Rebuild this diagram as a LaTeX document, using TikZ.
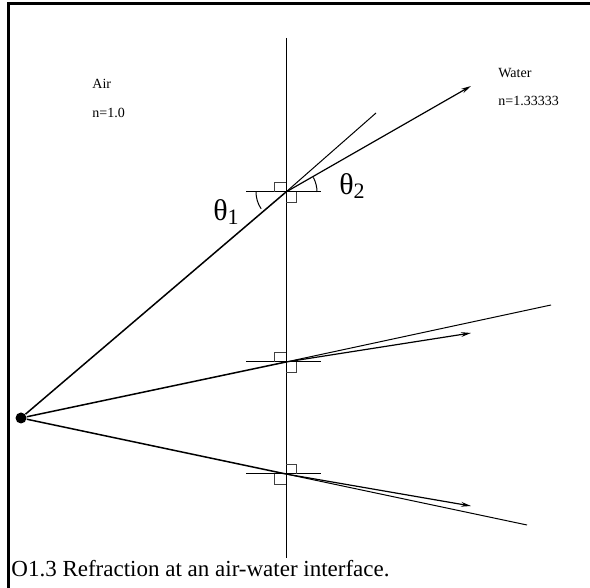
\documentclass[tikz,border=0pt]{standalone}
\usepackage{fontspec}
\setmainfont{Liberation Serif}
\usetikzlibrary{positioning}
\usetikzlibrary{calc}
\usetikzlibrary{arrows.meta}

\begin{document}
\begin{tikzpicture}[x=0.5pt, y=-0.5pt,
        ray/.style={line width=0.75pt},
        bent/.style={line width=0.6pt, -{Stealth[length=5pt,width=2.4pt]}},
        straight/.style={line width=0.5pt},
        normal/.style={line width=0.5pt},
        corner/.style={line width=0.4pt, black!75},
        medium/.style={font=\fontsize{7}{8}\selectfont, anchor=base west, inner sep=0pt},
        angle/.style={font=\fontsize{15}{15}\selectfont, inner sep=0pt}]
        \useasboundingbox (0,0) rectangle (590,588);
        \draw[line width=1.5pt] (8,588) -- (8,4) -- (590,4);

        % interface
        \coordinate (top) at (286,38);
        \coordinate (bottom) at (286,558);
        \draw[normal] (top) -- (bottom);

        \node[medium] (air) at (92,89) {Air};
        \node[medium] (n_air) at (92,118) {n=1.0};
        \node[medium] (water) at (498,78) {Water};
        \node[medium] (n_water) at (498,106) {n=1.33333};

        % source and hit points
        \node[circle, fill, inner sep=0pt, minimum size=5.5pt] (s_0) at (21,418) {};
        \coordinate (p_1) at (286,192);
        \coordinate (p_2) at (286,362);
        \coordinate (p_3) at (286,474);

        \coordinate (b_1) at (471,86);
        \coordinate (b_2) at (471,333);
        \coordinate (b_3) at (471,506);
        \coordinate (c_1) at (376,113);
        \coordinate (c_2) at (551,305);
        \coordinate (c_3) at (527,525);

        \foreach \i in {1,2,3} {
            \draw[normal] (p_\i) ++(-40,0) -- ++(75,0);
            \draw[ray] (s_0) -- (p_\i);
            \draw[bent] (p_\i) -- (b_\i);
            \draw[straight] (p_\i) -- (c_\i);
        }

        % right angle marks
        \draw[corner] (p_1) ++(-12,0) -- ++(0,-10) -- ++(12,0);
        \draw[corner] (p_1) ++(0,10) -- ++(10,0) -- ++(0,-10);
        \draw[corner] (p_2) ++(-12,0) -- ++(0,-10) -- ++(12,0);
        \draw[corner] (p_2) ++(0,10) -- ++(10,0) -- ++(0,-10);
        \draw[corner] (p_3) ++(0,-10) -- ++(10,0) -- ++(0,10);
        \draw[corner] (p_3) ++(-12,0) -- ++(0,10) -- ++(12,0);

        % angles
        \draw[normal] (p_1) ++(-30,0) arc[start angle=180, end angle=214, radius=15pt];
        \draw[normal] (p_1) ++(31,0) arc[start angle=0, end angle=28, radius=15.5pt];
        \node[angle] (theta_1) at (226,212) {θ\raisebox{-0.35ex}{\fontsize{11}{11}\selectfont 1}};
        \node[angle] (theta_2) at (352,186) {θ\raisebox{-0.35ex}{\fontsize{11}{11}\selectfont 2}};

        \node[font=\fontsize{11.5}{12}\selectfont, anchor=base west, inner sep=0pt] (caption) at (11,577) {O1.3 Refraction at an air-water interface.};
    \end{tikzpicture}
\end{document}
